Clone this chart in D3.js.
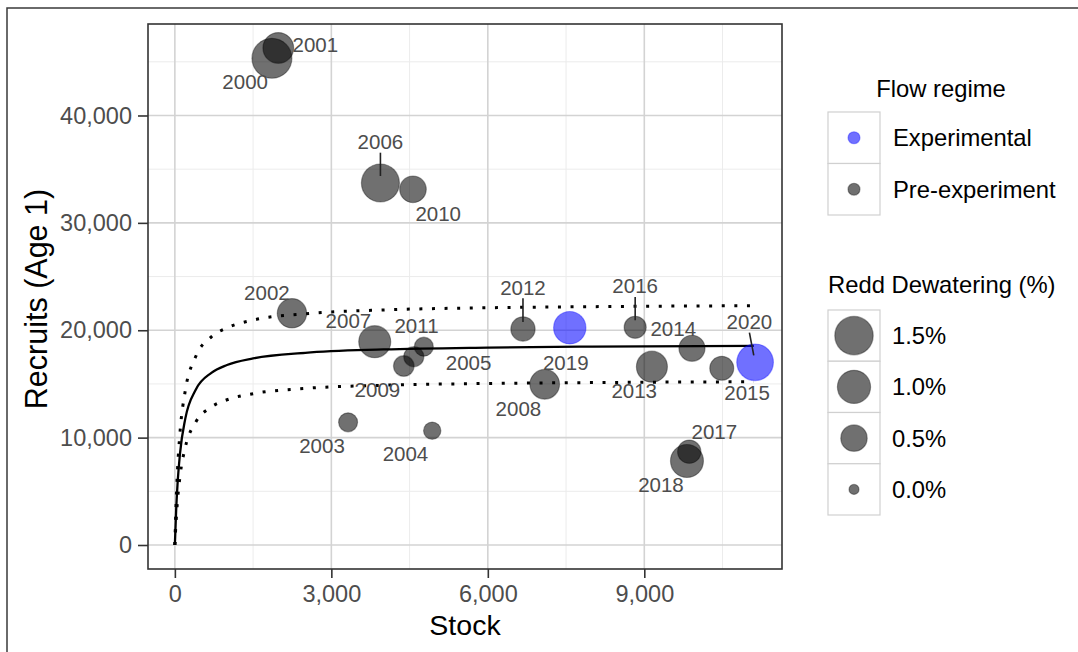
<!DOCTYPE html>
<html>
<head>
<meta charset="utf-8">
<script src="https://cdn.jsdelivr.net/npm/d3@7"></script>
<style>
  html, body { margin: 0; padding: 0; background: #fff; }
  svg { display: block; font-family: "Liberation Sans", Arial, Helvetica, sans-serif; }
</style>
</head>
<body>
<svg id="chart" width="1078" height="652"></svg>
<script>
// ---------------- data ----------------
const years      = [2000, 2001, 2002, 2003, 2004, 2005, 2006, 2007, 2008, 2009, 2010,
                    2011, 2012, 2013, 2014, 2015, 2016, 2017, 2018, 2019, 2020];
const stock      = [1861, 1983, 2245, 3321, 4934, 4581, 3941, 3832, 7091, 4389, 4565,
                    4773, 6674, 9146, 9914, 10485, 8825, 9862, 9818, 7571, 11124];
const recruits   = [45327, 46287, 21578, 11427, 10645, 17537, 33714, 18934, 14966, 16670, 33127,
                    18468, 20116, 16605, 18319, 16456, 20275, 8689, 7823, 20237, 17015];
const dewatering = [1.67, 0.80, 0.70, 0.15, 0.10, 0.19, 1.46, 0.90, 0.72, 0.21, 0.51,
                    0.15, 0.38, 0.82, 0.48, 0.36, 0.27, 0.33, 0.98, 0.93, 1.32];
const regime     = ["Pre-experiment", "Pre-experiment", "Pre-experiment", "Pre-experiment", "Pre-experiment",
                    "Pre-experiment", "Pre-experiment", "Pre-experiment", "Pre-experiment", "Pre-experiment",
                    "Pre-experiment", "Pre-experiment", "Pre-experiment", "Pre-experiment", "Pre-experiment",
                    "Pre-experiment", "Pre-experiment", "Pre-experiment", "Pre-experiment", "Experimental", "Experimental"];
// label anchor positions (data units, as placed by the label repel)
const labelStock    = [1348, 2693, 1765, 2821, 4421, 5631, 3941, 3327, 6586, 3883, 5049,
                       4633, 6674, 8806, 9555, 10971, 8825, 10342, 9319, 7494, 11015];
const labelRecruits = [43120, 46631, 23497, 9220, 8475, 16950, 37560, 20862, 12666, 14501, 30890,
                       20396, 24000, 14342, 20182, 14184, 24121, 10552, 5588, 16978, 20796];
const labelSegment  = [2006, 2012, 2016, 2020];

// fitted stock-recruit curve and its bounds
const fitStock = [0, 25, 50, 100, 200, 400, 700, 1000, 1500, 2500, 4000, 6000, 8000, 11100];
const fitMid   = [0, 3266, 5564, 8581, 11771, 14465, 16036, 16764, 17377, 17901, 18211, 18387, 18476, 18552];
const fitUpper = [0, 4078, 6905, 10568, 14381, 17552, 19381, 20225, 20945, 21537, 21892, 22094, 22196, 22283];
const fitLower = [0, 2360, 4093, 6466, 9106, 11442, 12856, 13524, 14093, 14585, 14877, 15044, 15129, 15201];

const xTicks = [0, 3000, 6000, 9000];
const xMinor = [1500, 4500, 7500, 10500];
const yTicks = [0, 10000, 20000, 30000, 40000];
const yMinor = [5000, 15000, 25000, 35000, 45000];

const regimeLevels = ["Experimental", "Pre-experiment"];
const sizeBreaks   = [1.5, 1.0, 0.5, 0.0];
const sizeLabels   = ["1.5%", "1.0%", "0.5%", "0.0%"];

// ---------------- layout ----------------
const svg = d3.select("#chart");
const P = { left: 148, right: 782, top: 24, bottom: 569 };

const x = d3.scaleLinear().domain([-515, 11640]).range([P.left, P.right]);
const y = d3.scaleLinear().domain([-2235, 48520]).range([P.bottom, P.top]);
const r = d3.scaleSqrt().domain([0, 1.5]).range([5, 19.2]);
const colour = d3.scaleOrdinal().domain(regimeLevels).range(["#0000ff", "#000000"]);
const fmt = d3.format(",");

// outer frame
svg.append("rect").attr("x", 7).attr("y", 8).attr("width", 1100).attr("height", 700)
  .attr("fill", "none").attr("stroke", "#3a3a3a").attr("stroke-width", 1.5);

// panel background
svg.append("rect").attr("x", P.left).attr("y", P.top)
  .attr("width", P.right - P.left).attr("height", P.bottom - P.top).attr("fill", "#fff");

const grid = svg.append("g");
grid.selectAll(".xminor").data(xMinor).join("line")
  .attr("x1", d => x(d)).attr("x2", d => x(d)).attr("y1", P.top).attr("y2", P.bottom)
  .attr("stroke", "#ececec").attr("stroke-width", 1);
grid.selectAll(".yminor").data(yMinor).join("line")
  .attr("y1", d => y(d)).attr("y2", d => y(d)).attr("x1", P.left).attr("x2", P.right)
  .attr("stroke", "#ececec").attr("stroke-width", 1);
grid.selectAll(".xmajor").data(xTicks).join("line")
  .attr("x1", d => x(d)).attr("x2", d => x(d)).attr("y1", P.top).attr("y2", P.bottom)
  .attr("stroke", "#d3d3d3").attr("stroke-width", 1.6);
grid.selectAll(".ymajor").data(yTicks).join("line")
  .attr("y1", d => y(d)).attr("y2", d => y(d)).attr("x1", P.left).attr("x2", P.right)
  .attr("stroke", "#d3d3d3").attr("stroke-width", 1.6);

// curves
const line = d3.line().x(d => x(d[0])).y(d => y(d[1])).curve(d3.curveMonotoneX);
const mid   = fitStock.map((s, i) => [s, fitMid[i]]);
const upper = fitStock.map((s, i) => [s, fitUpper[i]]);
const lower = fitStock.map((s, i) => [s, fitLower[i]]);
[upper, lower].forEach(pts => {
  svg.append("path").attr("d", line(pts)).attr("fill", "none")
    .attr("stroke", "#000").attr("stroke-width", 3)
    .attr("stroke-dasharray", "3 9.6");
});
svg.append("path").attr("d", line(mid)).attr("fill", "none")
  .attr("stroke", "#000").attr("stroke-width", 2.3);

// points
const rows = years.map((yr, i) => ({
  year: yr, s: stock[i], rec: recruits[i], dw: dewatering[i], reg: regime[i],
  ls: labelStock[i], lr: labelRecruits[i]
}));
svg.append("g").selectAll("circle").data(rows).join("circle")
  .attr("cx", d => x(d.s)).attr("cy", d => y(d.rec)).attr("r", d => r(d.dw))
  .attr("fill", d => colour(d.reg)).attr("fill-opacity", 0.56)
  .attr("stroke", d => colour(d.reg)).attr("stroke-opacity", 0.35).attr("stroke-width", 1.2);

// label segments
svg.append("g").selectAll("line").data(rows.filter(d => labelSegment.includes(d.year))).join("line")
  .each(function(d) {
    const x0 = x(d.ls), y0 = y(d.lr) + 11;
    const x1 = x(d.s), y1 = y(d.rec);
    const len = Math.hypot(x1 - x0, y1 - y0);
    const k = (len - 7) / len;
    d3.select(this).attr("x1", x0).attr("y1", y0)
      .attr("x2", x0 + (x1 - x0) * k).attr("y2", y0 + (y1 - y0) * k);
  })
  .attr("stroke", "#222").attr("stroke-width", 1.6);

// labels
svg.append("g").selectAll("text").data(rows).join("text")
  .attr("x", d => x(d.ls)).attr("y", d => y(d.lr)).attr("dy", "0.36em")
  .attr("text-anchor", "middle").attr("font-size", 20.5).attr("fill", "#4d4d4d")
  .text(d => d.year);

// panel border
svg.append("rect").attr("x", P.left).attr("y", P.top)
  .attr("width", P.right - P.left).attr("height", P.bottom - P.top)
  .attr("fill", "none").attr("stroke", "#333").attr("stroke-width", 1.6);

// axes
const xAxis = svg.append("g").attr("transform", `translate(0,${P.bottom})`)
  .call(d3.axisBottom(x).tickValues(xTicks).tickFormat(fmt).tickSize(9).tickPadding(7));
const yAxis = svg.append("g").attr("transform", `translate(${P.left},0)`)
  .call(d3.axisLeft(y).tickValues(yTicks).tickFormat(fmt).tickSize(10).tickPadding(6));
[xAxis, yAxis].forEach(a => {
  a.select(".domain").remove();
  a.selectAll(".tick line").attr("stroke", "#333").attr("stroke-width", 1.6);
  a.selectAll(".tick text").attr("fill", "#4d4d4d").attr("font-size", 23.5)
    .attr("font-family", "Liberation Sans, Arial, sans-serif");
});

// axis titles
svg.append("text").attr("x", (P.left + P.right) / 2).attr("y", 635)
  .attr("text-anchor", "middle").attr("font-size", 28.5).attr("fill", "#000").text("Stock");
svg.append("text").attr("transform", `translate(47,299) rotate(-90)`)
  .attr("text-anchor", "middle").attr("font-size", 30.5).attr("fill", "#000").text("Recruits (Age 1)");

// ---------------- legends ----------------
const keyX = 828, keyW = 52;
// Flow regime
const flowTop = 112, flowKeyH = 51.5;
svg.append("text").attr("x", 941).attr("y", 97).attr("text-anchor", "middle")
  .attr("font-size", 23.8).attr("fill", "#000").text("Flow regime");
regimeLevels.forEach((lv, i) => {
  const cy = flowTop + i * flowKeyH;
  svg.append("rect").attr("x", keyX).attr("y", cy).attr("width", keyW).attr("height", flowKeyH)
    .attr("fill", "#fff").attr("stroke", "#d0d0d0").attr("stroke-width", 1.2);
  svg.append("circle").attr("cx", keyX + keyW / 2).attr("cy", cy + flowKeyH / 2).attr("r", 6)
    .attr("fill", colour(lv)).attr("fill-opacity", 0.56)
    .attr("stroke", colour(lv)).attr("stroke-opacity", 0.35).attr("stroke-width", 1.2);
  svg.append("text").attr("x", 893).attr("y", cy + flowKeyH / 2).attr("dy", "0.36em")
    .attr("font-size", 23.8).attr("fill", "#000").text(lv);
});

// Redd Dewatering
const sizeTop = 310, sizeKeyH = 51.25;
svg.append("text").attr("x", keyX).attr("y", 293).attr("font-size", 23.8).attr("fill", "#000")
  .text("Redd Dewatering (%)");
sizeBreaks.forEach((b, i) => {
  const cy = sizeTop + i * sizeKeyH;
  svg.append("rect").attr("x", keyX).attr("y", cy).attr("width", keyW).attr("height", sizeKeyH)
    .attr("fill", "#fff").attr("stroke", "#d0d0d0").attr("stroke-width", 1.2);
  svg.append("circle").attr("cx", keyX + keyW / 2).attr("cy", cy + sizeKeyH / 2).attr("r", r(b))
    .attr("fill", "#000").attr("fill-opacity", 0.56)
    .attr("stroke", "#000").attr("stroke-opacity", 0.35).attr("stroke-width", 1.2);
  svg.append("text").attr("x", 892).attr("y", cy + sizeKeyH / 2).attr("dy", "0.36em")
    .attr("font-size", 23.8).attr("fill", "#000").text(sizeLabels[i]);
});
</script>
</body>
</html>
